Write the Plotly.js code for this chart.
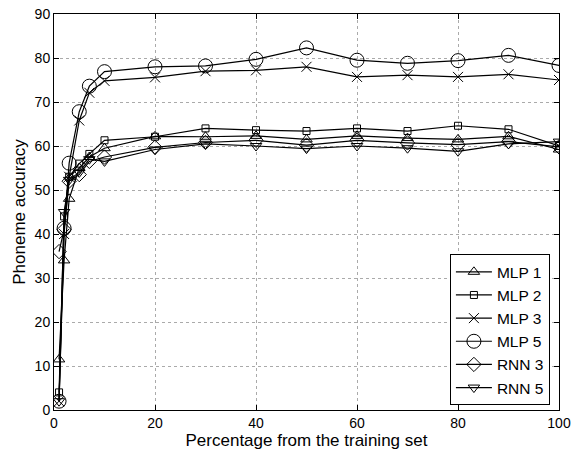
<!DOCTYPE html>
<html>
<head>
<meta charset="utf-8">
<script src="https://cdn.plot.ly/plotly-3.0.1.min.js"></script>
<style>html,body{margin:0;padding:0;background:#fff;}#chart{width:577px;height:452px;}</style>
</head>
<body>
<div id="chart"></div>
<script>
const xPct = [1, 2, 3, 5, 7, 10, 20, 30, 40, 50, 60, 70, 80, 90, 100];
const mlp1 = [11.5, 34, 48, 55, 57.5, 59.5, 62.2, 62.1, 62.3, 61.5, 62.3, 61.8, 61.5, 62.2, 59.2];
const mlp2 = [4, 44, 53, 56, 58.2, 61.3, 62.1, 64.0, 63.6, 63.4, 64.0, 63.4, 64.6, 63.8, 60.0];
const mlp3 = [2, 40, 53, 65.8, 72.1, 74.8, 75.6, 77.0, 77.2, 78.0, 75.7, 76.1, 75.7, 76.3, 75.0];
const mlp5 = [2, 41.3, 56.1, 67.8, 73.6, 76.9, 78.0, 78.2, 79.7, 82.3, 79.5, 78.8, 79.4, 80.6, 78.3];
const rnn3 = [36, 41, 52, 53.5, 56.5, 57.5, 59.7, 60.8, 61.3, 60.2, 61.3, 60.7, 60.3, 61.0, 59.8];
const rnn5 = [2, 45, 52.3, 54, 57, 56.5, 59.2, 60.5, 60.0, 59.4, 60.0, 59.5, 58.8, 60.5, 61.0];
const names = ['MLP 1', 'MLP 2', 'MLP 3', 'MLP 5', 'RNN 3', 'RNN 5'];
const series = [mlp1, mlp2, mlp3, mlp5, rnn3, rnn5];
const symbols = ['triangle-up-open', 'square-open', 'x-thin-open', 'circle-open', 'diamond-open', 'triangle-down-open'];
const sizes = [10, 7, 10, 14, 11, 10];

const traces = series.map((ys, i) => ({
  x: xPct, y: ys, name: names[i], type: 'scatter', mode: 'lines+markers',
  line: {color: 'black', width: 1.2},
  marker: {symbol: symbols[i], size: sizes[i], color: 'black', line: {color: 'black', width: 1}}
}));

const font = {family: '"Liberation Sans", Arial, sans-serif', color: 'black'};
const layout = {
  width: 577, height: 452,
  margin: {l: 54, r: 18, t: 14, b: 42},
  paper_bgcolor: 'white', plot_bgcolor: 'white',
  font: Object.assign({size: 14}, font),
  showlegend: true,
  legend: {x: 0.982, y: 0.012, xanchor: 'right', yanchor: 'bottom',
    bordercolor: 'black', borderwidth: 1, bgcolor: 'white', itemwidth: 36,
    font: Object.assign({size: 15.5}, font), tracegroupgap: 0},
  xaxis: {range: [0, 100], tickvals: [0, 20, 40, 60, 80, 100], ticktext: ['0','20','40','60','80','100'],
    showline: true, linecolor: 'black', linewidth: 1, mirror: 'allticks',
    ticks: 'inside', ticklen: 5, tickcolor: 'black',
    showgrid: true, gridcolor: '#aaaaaa', griddash: 'dot', gridwidth: 1, zeroline: false,
    tickfont: Object.assign({size: 14}, font),
    title: {text: 'Percentage from the training set', font: Object.assign({size: 17}, font), standoff: 2}},
  yaxis: {range: [0, 90], tickvals: [0,10,20,30,40,50,60,70,80,90],
    showline: true, linecolor: 'black', linewidth: 1, mirror: 'allticks',
    ticks: 'inside', ticklen: 5, tickcolor: 'black',
    showgrid: true, gridcolor: '#aaaaaa', griddash: 'dot', gridwidth: 1, zeroline: false,
    tickfont: Object.assign({size: 14}, font),
    title: {text: 'Phoneme accuracy', font: Object.assign({size: 17}, font), standoff: 4}}
};
Plotly.newPlot('chart', traces, layout, {displayModeBar: false, staticPlot: true});
</script>
</body>
</html>
